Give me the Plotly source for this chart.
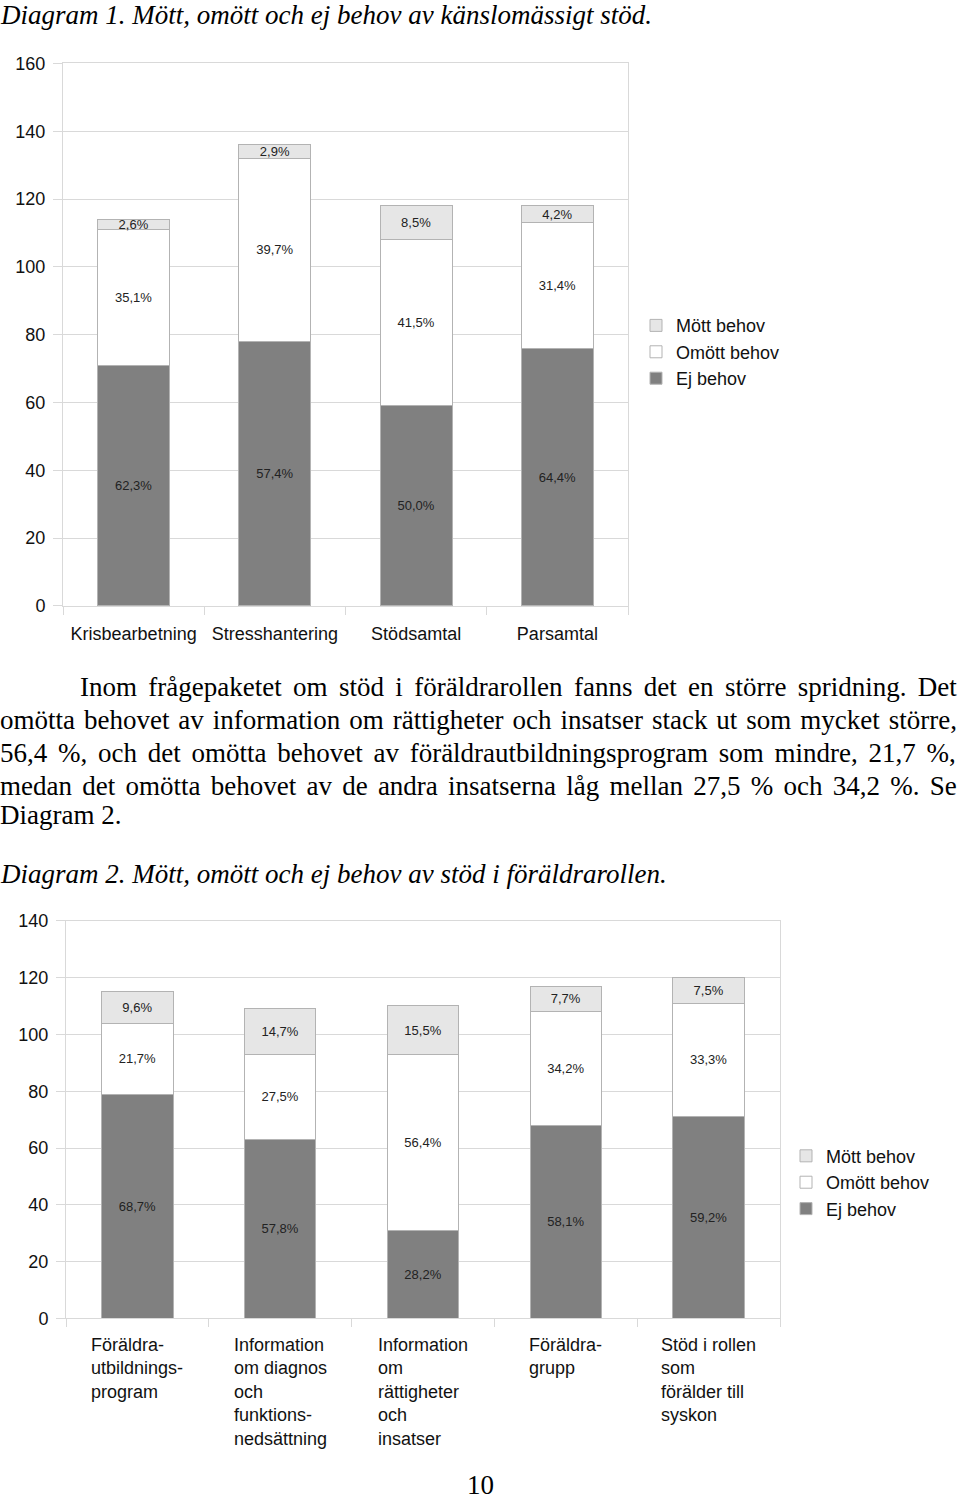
import plotly.graph_objects as go

# ---------------- data ----------------
cat1 = ["Krisbearbetning", "Stresshantering", "Stödsamtal", "Parsamtal"]
ej1 = [71, 78, 59, 76]
omott1 = [40, 54, 49, 37]
mott1 = [3, 4, 10, 5]
pct_ej1 = [62.3, 57.4, 50.0, 64.4]
pct_omott1 = [35.1, 39.7, 41.5, 31.4]
pct_mott1 = [2.6, 2.9, 8.5, 4.2]

cat2 = ["Föräldra-\nutbildnings-\nprogram",
        "Information\nom diagnos\noch\nfunktions-\nnedsättning",
        "Information\nom\nrättigheter\noch\ninsatser",
        "Föräldra-\ngrupp",
        "Stöd i rollen\nsom\nförälder till\nsyskon"]
ej2 = [79, 63, 31, 68, 71]
omott2 = [25, 30, 62, 40, 40]
mott2 = [11, 16, 17, 9, 9]
pct_ej2 = [68.7, 57.8, 28.2, 58.1, 59.2]
pct_omott2 = [21.7, 27.5, 56.4, 34.2, 33.3]
pct_mott2 = [9.6, 14.7, 15.5, 7.7, 7.5]

series_names = ["Ej behov", "Omött behov", "Mött behov"]
series_colors = ["#808080", "#ffffff", "#e6e6e6"]

title1 = "Diagram 1. Mött, omött och ej behov av känslomässigt stöd."
title2 = "Diagram 2. Mött, omött och ej behov av stöd i föräldrarollen."
para_lines = [
    "Inom frågepaketet om stöd i föräldrarollen fanns det en större spridning. Det",
    "omötta behovet av information om rättigheter och insatser stack ut som mycket större,",
    "56,4 %, och det omötta behovet av föräldrautbildningsprogram som mindre, 21,7 %,",
    "medan det omötta behovet av de andra insatserna låg mellan 27,5 % och 34,2 %. Se",
    "Diagram 2.",
]
page_number = "10"

# ---------------- layout helpers ----------------
W, H = 960, 1505
SANS = "Liberation Sans, Arial, sans-serif"
SERIF = "Liberation Serif, Times New Roman, serif"
GRID = "#d9d9d9"
TXT = 27


def fx(p):
    return p / W


def fy(p):
    # page pixel row -> paper fraction (compensates the capture's vertical fit)
    return 1 - ((p - 8.6) / 0.9874) / H


def fmt(v):
    return f"{v:.1f}".replace(".", ",") + "%"


fig = go.Figure()

cat2_keys = [c.replace("\n", " ") for c in cat2]

for vals, pcts, name, col in zip([ej1, omott1, mott1], [pct_ej1, pct_omott1, pct_mott1],
                                 series_names, series_colors):
    fig.add_trace(go.Bar(
        x=cat1, y=vals, name=name, width=0.51,
        marker=dict(color=col, line=dict(color="#b3b3b3", width=1)),
        text=[fmt(p) for p in pcts], textposition="inside", insidetextanchor="middle",
        textangle=0, constraintext="none",
        textfont=dict(family=SANS, size=13, color="#222222"),
        xaxis="x", yaxis="y", legend="legend", hoverinfo="skip",
    ))

for vals, pcts, name, col in zip([ej2, omott2, mott2], [pct_ej2, pct_omott2, pct_mott2],
                                 series_names, series_colors):
    fig.add_trace(go.Bar(
        x=cat2_keys, y=vals, name=name, width=0.5,
        marker=dict(color=col, line=dict(color="#b3b3b3", width=1)),
        text=[fmt(p) for p in pcts], textposition="inside", insidetextanchor="middle",
        textangle=0, constraintext="none",
        textfont=dict(family=SANS, size=13, color="#222222"),
        xaxis="x2", yaxis="y2", legend="legend2", hoverinfo="skip",
    ))

axis_common_y = dict(
    showgrid=True, gridcolor=GRID, gridwidth=1, zeroline=False,
    showline=True, linecolor=GRID, linewidth=1, mirror=True,
    ticks="outside", ticklen=9, tickcolor=GRID, tickwidth=1,
    tickfont=dict(family=SANS, size=18, color="#111111"),
    ticklabelstandoff=4, dtick=20, fixedrange=True,
)
axis_common_x = dict(
    type="category", tickson="boundaries", ticks="outside", ticklen=8,
    tickcolor=GRID, tickwidth=1, showgrid=False, showline=True,
    linecolor=GRID, linewidth=1, mirror=True, zeroline=False,
    tickfont=dict(family=SANS, size=18, color="#111111"), fixedrange=True,
)

annotations = []
annotations.append(dict(text=f"<i>{title1}</i>", x=0, y=fy(14), xref="paper", yref="paper",
                        xanchor="left", yanchor="middle", showarrow=False, xshift=-2,
                        font=dict(family=SERIF, size=TXT, color="#000000")))
annotations.append(dict(text=f"<i>{title2}</i>", x=0, y=fy(873), xref="paper", yref="paper",
                        xanchor="left", yanchor="middle", showarrow=False, xshift=-2,
                        font=dict(family=SERIF, size=TXT, color="#000000")))
line_y = [686, 719, 752, 785, 814]
line_x = [80, 0, 0, 0, 0]
word_sp = [4.6, 2.2, 4.0, 3.5, 0]
for txt, yy, xx, ws in zip(para_lines, line_y, line_x, word_sp):
    t = f'<span style="word-spacing:{ws}px">{txt}</span>' if ws else txt
    annotations.append(dict(text=t, x=fx(xx), y=fy(yy), xref="paper", yref="paper",
                            xanchor="left", yanchor="middle", showarrow=False, xshift=-2,
                            font=dict(family=SERIF, size=TXT, color="#000000")))
annotations.append(dict(text=page_number, x=0.5, y=1 - 1495 / H, xref="paper", yref="paper",
                        xanchor="center", yanchor="middle", showarrow=False,
                        font=dict(family=SERIF, size=TXT, color="#000000")))
for key, lab in zip(cat2_keys, cat2):
    annotations.append(dict(text=lab.replace("\n", "<br>"), x=key, xref="x2",
                            y=fy(1333), yref="paper", xanchor="center", yanchor="top",
                            align="left", showarrow=False,
                            font=dict(family=SANS, size=18, color="#111111")))

fig.update_layout(
    width=W, height=H, margin=dict(l=0, r=0, t=0, b=0),
    paper_bgcolor="white", plot_bgcolor="white", barmode="stack",
    xaxis=dict(domain=[fx(63), fx(628)], anchor="y", ticklabelstandoff=11, **axis_common_x),
    yaxis=dict(domain=[fy(605), fy(62)], range=[0, 160], anchor="x", **axis_common_y),
    xaxis2=dict(domain=[fx(66), fx(780)], anchor="y2", showticklabels=False, **axis_common_x),
    yaxis2=dict(domain=[fy(1318), fy(920)], range=[0, 140], anchor="x2", **axis_common_y),
    legend=dict(x=fx(636), y=fy(306), xanchor="left", yanchor="top", traceorder="reversed",
                font=dict(family=SANS, size=18, color="#111111"), bgcolor="rgba(0,0,0,0)"),
    legend2=dict(x=fx(786), y=fy(1137), xanchor="left", yanchor="top", traceorder="reversed",
                 font=dict(family=SANS, size=18, color="#111111"), bgcolor="rgba(0,0,0,0)"),
    annotations=annotations,
    showlegend=True,
)

fig.write_html("out.html")
